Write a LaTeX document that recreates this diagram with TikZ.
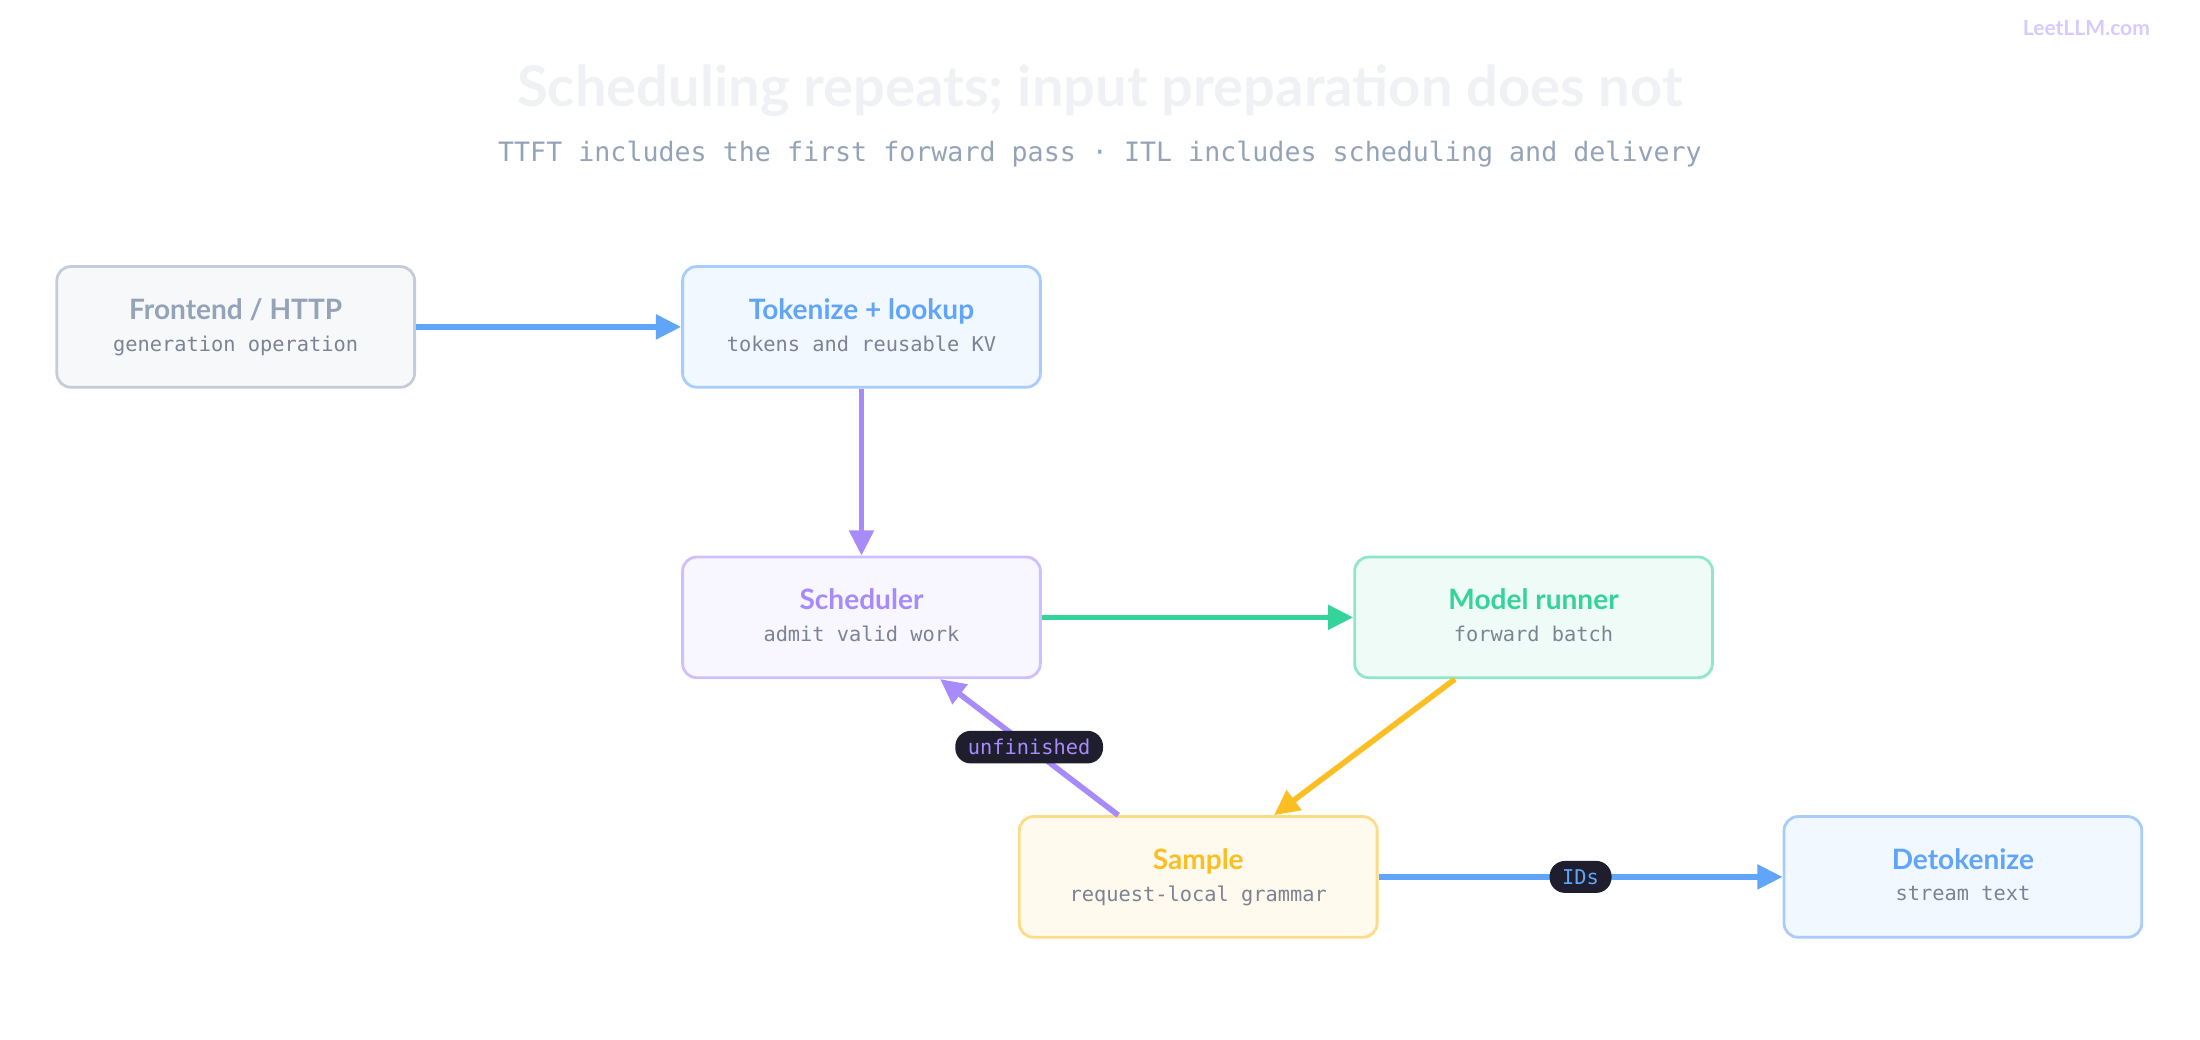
\documentclass[tikz,border=0pt]{standalone}
\usepackage{fontspec}
\setmainfont{Lato}
\newfontfamily\mono{DejaVu Sans Mono}
\usetikzlibrary{arrows.meta}
\definecolor{cgray}{HTML}{94A3B8}
\definecolor{cblue}{HTML}{60A5FA}
\definecolor{cpur}{HTML}{A78BFA}
\definecolor{cgreen}{HTML}{34D399}
\definecolor{cyel}{HTML}{FBBF24}
\definecolor{csub}{HTML}{7B8494}
\definecolor{pill}{HTML}{1E1E2E}
\newcommand\ttlfont{\fontsize{20}{22}\selectfont\bfseries}
\begin{document}
\begin{tikzpicture}[x=1pt,y=-1pt,
 box/.style={draw=#1!55,fill=#1!8,line width=2pt,rounded corners=10pt,minimum width=255pt,minimum height=86pt,align=center,text=#1},
 arr/.style={line width=4pt,draw=#1,-{Triangle[length=18pt,width=17pt]}},
 lab/.style={fill=pill,rounded corners=11pt,font=\mono\fontsize{14.5}{16}\selectfont,text=#1,inner xsep=9pt,inner ysep=6pt}]
\useasboundingbox (0,0) rectangle (1568,741);
\node[text=cpur!45,font=\fontsize{15}{16}\selectfont\bfseries] (logo) at (1487,20) {LeetLLM.com};
\node[text=cgray!15,font=\fontsize{40}{44}\selectfont\bfseries] (title) at (784,65) {Scheduling repeats; input preparation does not};
\node[text=cgray,font=\mono\fontsize{19}{22}\selectfont] (sub) at (784,110) {TTFT includes the first forward pass · ITL includes scheduling and delivery};
\def\bx#1#2#3#4#5{\node[box=#2] (#1) at (#3) {{\ttlfont\vphantom{Tg}#4}\\[7pt]{\mono\fontsize{14.5}{16}\selectfont\color{csub}\vphantom{Tg}#5}};}
\bx{fe}{cgray}{168,233}{Frontend / HTTP}{generation operation}
\bx{tok}{cblue}{614,233}{Tokenize + lookup}{tokens and reusable KV}
\bx{sch}{cpur}{614,440}{Scheduler}{admit valid work}
\bx{mod}{cgreen}{1093,440}{Model runner}{forward batch}
\bx{sam}{cyel}{854,625}{Sample}{request-local grammar}
\bx{det}{cblue}{1399,625}{Detokenize}{stream text}
\draw[arr=cblue] (fe) -- (tok);
\draw[arr=cpur] (tok) -- (sch);
\draw[arr=cgreen] (sch) -- (mod);
\draw[arr=cyel] ([xshift=-56pt]mod.south) -- ([xshift=54pt]sam.north);
\draw[arr=cpur] ([xshift=-57pt]sam.north) -- ([xshift=56pt]sch.south) node[pos=0.5,lab=cpur] (l1) {unfinished};
\draw[arr=cblue] (sam) -- (det) node[pos=0.5,lab=cblue] (l2) {IDs};
\end{tikzpicture}
\end{document}
